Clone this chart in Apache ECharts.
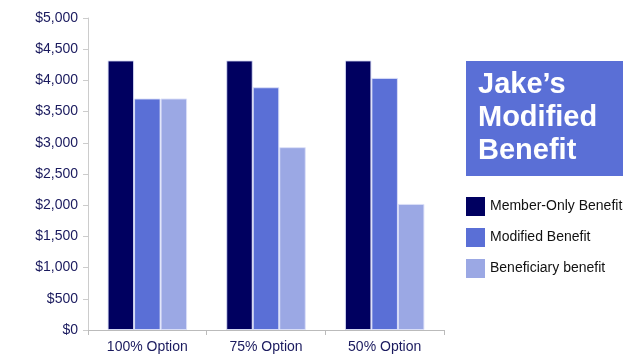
<!DOCTYPE html>
<html>
<head>
<meta charset="utf-8">
<script src="https://cdn.jsdelivr.net/npm/echarts@6/dist/echarts.min.js"></script>
<style>html,body{margin:0;padding:0;background:#fff}#c{width:644px;height:356px}</style>
</head>
<body>
<div id="c"></div>
<script>
var categories = ['100% Option', '75% Option', '50% Option'];
var memberOnly = [4320, 4320, 4320];
var modified = [3710, 3890, 4040];
var beneficiary = [3710, 2930, 2020];
var seriesNames = ['Member-Only Benefit', 'Modified Benefit', 'Beneficiary benefit'];
var yTicks = { min: 0, max: 5000, interval: 500 };

var colors = ['#000060', '#5a6fd6', '#9ba8e4'];
var chart = echarts.init(document.getElementById('c'), null, { renderer: 'canvas' });
var font = 'Liberation Sans, Arial, sans-serif';
function mk(name, data, i) {
  return {
    name: name, type: 'bar', data: data, barGap: '0%', barCategoryGap: '33%',
    itemStyle: { color: colors[i], borderColor: 'rgba(220,224,248,0.9)', borderWidth: 1 },
    emphasis: { disabled: true }
  };
}
chart.setOption({
  animation: false,
  grid: { left: 88, right: 200, top: 18, bottom: 26 },
  legend: {
    orient: 'vertical', left: 466, top: 197, padding: 0, itemWidth: 19, itemHeight: 19, itemGap: 12,
    icon: 'rect',
    itemStyle: { borderWidth: 0 },
    textStyle: { fontFamily: font, fontSize: 14, color: '#111' },
    data: seriesNames
  },
  xAxis: {
    type: 'category', data: categories,
    axisLine: { lineStyle: { color: '#bbbbbb' } },
    axisTick: { show: true, length: 5, lineStyle: { color: '#bbbbbb' } },
    axisLabel: { color: '#1a1a5e', fontFamily: font, fontSize: 14, margin: 10 }
  },
  yAxis: {
    type: 'value', min: yTicks.min, max: yTicks.max, interval: yTicks.interval,
    splitLine: { show: false },
    axisLine: { show: true, lineStyle: { color: '#cccccc' } },
    axisTick: { show: true, length: 5, lineStyle: { color: '#cccccc' } },
    axisLabel: {
      color: '#1a1a5e', fontFamily: font, fontSize: 14, margin: 10,
      formatter: function (v) { return '$' + v.toLocaleString('en-US'); }
    }
  },
  graphic: [
    { type: 'rect', shape: { x: 466, y: 61, width: 157, height: 115 }, style: { fill: '#5a6fd6' } },
    { type: 'text', x: 478, y: 68, style: { text: 'Jake’s\nModified\nBenefit', fill: '#ffffff', font: 'bold 29px Liberation Sans, Arial, sans-serif', lineHeight: 33 } }
  ],
  series: [mk(seriesNames[0], memberOnly, 0), mk(seriesNames[1], modified, 1), mk(seriesNames[2], beneficiary, 2)]
});
</script>
</body>
</html>
